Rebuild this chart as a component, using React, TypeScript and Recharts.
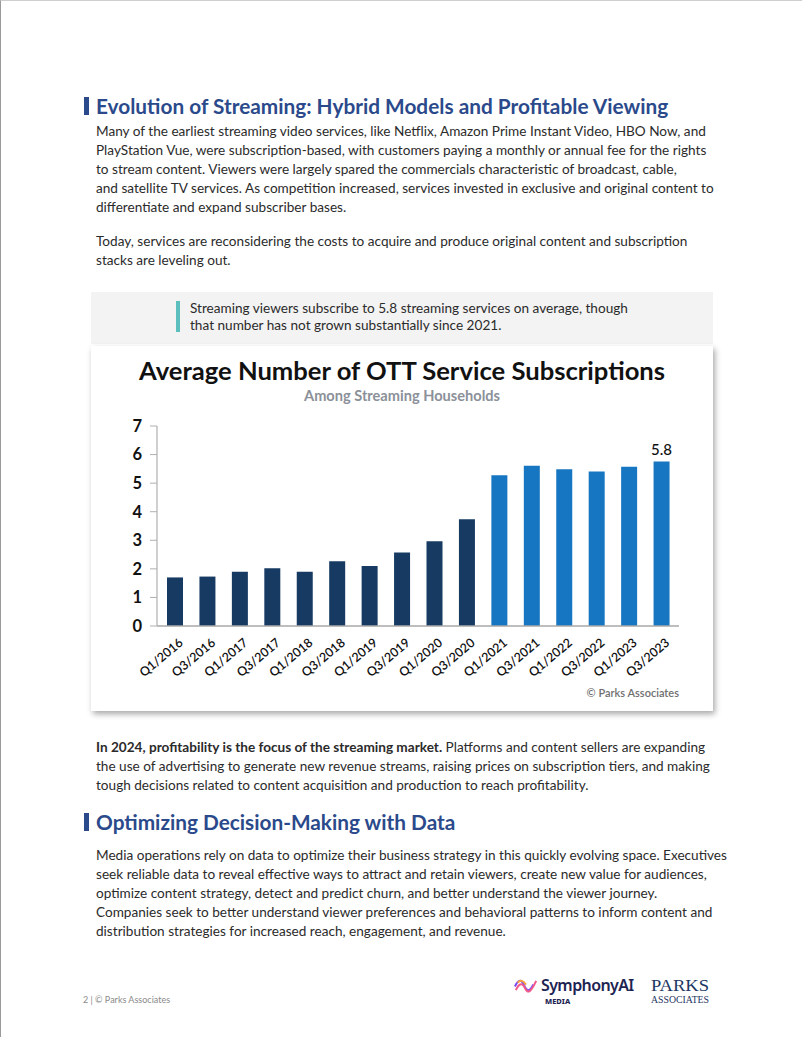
import React from "react";
import { BarChart, Bar, XAxis, YAxis, Cell, LabelList } from "recharts";

const categories = [
  "Q1/2016", "Q3/2016", "Q1/2017", "Q3/2017", "Q1/2018", "Q3/2018", "Q1/2019", "Q3/2019",
  "Q1/2020", "Q3/2020", "Q1/2021", "Q3/2021", "Q1/2022", "Q3/2022", "Q1/2023", "Q3/2023",
];
const subscriptions = [1.7, 1.73, 1.9, 2.02, 1.9, 2.27, 2.1, 2.57, 2.97, 3.74, 5.28, 5.61, 5.49, 5.41, 5.57, 5.76];
const valueLabels = ["", "", "", "", "", "", "", "", "", "", "", "", "", "", "", "5.8"];
const yTicks = [0, 1, 2, 3, 4, 5, 6, 7];

const data = categories.map((c, i) => ({ cat: c, value: subscriptions[i], label: valueLabels[i] }));

const FONT = "Lato, 'Noto Sans', sans-serif";
const NAVY = "#173a63";
const BLUE = "#1776c1";
const HEAD = "#2b4a8b";
const TXT = "#2b2b2b";

const Line: React.FC<{ top: number; left?: number; children: React.ReactNode; style?: React.CSSProperties }> = ({ top, left = 95, children, style }) => (
  <div style={{ position: "absolute", top, left, whiteSpace: "nowrap", fontSize: 13.6, color: TXT, fontFamily: FONT, lineHeight: "19px", ...style }}>
    {children}
  </div>
);

const XTick = (props: any) => {
  const { x, y, payload } = props;
  return (
    <g transform={`translate(${x + 6},${y + 7})`}>
      <text x={0} y={0} dy={4} textAnchor="end" transform="rotate(-40)" fontSize={12.5} fontWeight={600} fill="#111" fontFamily={FONT}>
        {payload.value}
      </text>
    </g>
  );
};

export default function App() {
  return (
    <div style={{ position: "absolute", left: 0, top: 0, width: 802, height: 1037, background: "#fff", boxSizing: "border-box", borderLeft: "1.5px solid #9a9a9a", borderTop: "1px solid #cfcfcf", overflow: "hidden", fontFamily: FONT }}>
      {/* Heading 1 */}
      <div style={{ position: "absolute", left: 83, top: 96, width: 5, height: 18, background: HEAD }} />
      <div style={{ position: "absolute", left: 95, top: 91, fontSize: 20.8, fontWeight: 700, color: HEAD, whiteSpace: "nowrap", lineHeight: "28px" }}>
        Evolution of Streaming: Hybrid Models and Profitable Viewing
      </div>
      <Line top={121}>Many of the earliest streaming video services, like Netflix, Amazon Prime Instant Video, HBO Now, and</Line>
      <Line top={140}>PlayStation Vue, were subscription-based, with customers paying a monthly or annual fee for the rights</Line>
      <Line top={159}>to stream content. Viewers were largely spared the commercials characteristic of broadcast, cable,</Line>
      <Line top={178}>and satellite TV services. As competition increased, services invested in exclusive and original content to</Line>
      <Line top={197}>differentiate and expand subscriber bases.</Line>
      <Line top={231}>Today, services are reconsidering the costs to acquire and produce original content and subscription</Line>
      <Line top={250}>stacks are leveling out.</Line>

      {/* Quote box */}
      <div style={{ position: "absolute", left: 90, top: 291, width: 622, height: 52, background: "#f3f3f3" }} />
      <div style={{ position: "absolute", left: 175, top: 300, width: 4, height: 31, background: "#5bbfbd" }} />
      <Line top={298} left={189}>Streaming viewers subscribe to 5.8 streaming services on average, though</Line>
      <Line top={315} left={189}>that number has not grown substantially since 2021.</Line>

      {/* Chart card */}
      <div style={{ position: "absolute", left: 90, top: 345, width: 622, height: 365, background: "#fff", boxShadow: "2px 3px 6px rgba(0,0,0,0.35)" }}>
        <div style={{ position: "absolute", left: 0, width: 622, top: 7, textAlign: "center", fontSize: 25.6, fontWeight: 700, color: "#111", whiteSpace: "nowrap", lineHeight: "34px" }}>
          Average Number of OTT Service Subscriptions
        </div>
        <div style={{ position: "absolute", left: 0, width: 622, top: 41, textAlign: "center", fontSize: 14.6, fontWeight: 700, color: "#8b9099", whiteSpace: "nowrap", lineHeight: "18px" }}>
          Among Streaming Households
        </div>
        <div style={{ position: "absolute", left: 0, top: 0 }}>
          <BarChart width={622} height={365} data={data} margin={{ top: 80, right: 34, bottom: 25, left: 0 }} barCategoryGap={0}>
            <XAxis
              dataKey="cat"
              interval={0}
              height={60}
              tickLine={false}
              axisLine={{ stroke: "#a8a8a8", strokeWidth: 1.5 }}
              tick={<XTick />}
              padding={{ left: 2, right: 1 }}
            />
            <YAxis
              domain={[0, 7]}
              ticks={yTicks}
              width={66}
              axisLine={{ stroke: "#b0b0b0", strokeWidth: 1.2 }}
              tickLine={{ stroke: "#b0b0b0" }}
              tickSize={7}
              tick={{ fontSize: 16.5, fontWeight: 700, fill: "#111", fontFamily: FONT, dx: -6 }}
            />
            <Bar dataKey="value" barSize={16} isAnimationActive={false}>
              {data.map((d, i) => (
                <Cell key={i} fill={Number(d.cat.slice(3)) >= 2021 ? BLUE : NAVY} />
              ))}
              <LabelList dataKey="label" position="top" offset={6} style={{ fontSize: 15, fill: "#111", fontFamily: FONT, fontWeight: 500 }} />
            </Bar>
          </BarChart>
        </div>
        <div style={{ position: "absolute", right: 34, top: 340, fontSize: 11, fontWeight: 600, color: "#6f6f6f", whiteSpace: "nowrap" }}>
          © Parks Associates
        </div>
      </div>

      <Line top={737}><b>In 2024, profitability is the focus of the streaming market.</b> Platforms and content sellers are expanding</Line>
      <Line top={756}>the use of advertising to generate new revenue streams, raising prices on subscription tiers, and making</Line>
      <Line top={775}>tough decisions related to content acquisition and production to reach profitability.</Line>

      {/* Heading 2 */}
      <div style={{ position: "absolute", left: 83, top: 812, width: 5, height: 18, background: HEAD }} />
      <div style={{ position: "absolute", left: 95, top: 807, fontSize: 20.8, fontWeight: 700, color: HEAD, whiteSpace: "nowrap", lineHeight: "28px" }}>
        Optimizing Decision-Making with Data
      </div>
      <Line top={845}>Media operations rely on data to optimize their business strategy in this quickly evolving space. Executives</Line>
      <Line top={864}>seek reliable data to reveal effective ways to attract and retain viewers, create new value for audiences,</Line>
      <Line top={883}>optimize content strategy, detect and predict churn, and better understand the viewer journey.</Line>
      <Line top={902}>Companies seek to better understand viewer preferences and behavioral patterns to inform content and</Line>
      <Line top={921}>distribution strategies for increased reach, engagement, and revenue.</Line>

      {/* Footer */}
      <div style={{ position: "absolute", left: 82, top: 993, fontSize: 9, color: "#8a8a8a", whiteSpace: "nowrap" }}>2 | © Parks Associates</div>
      <svg style={{ position: "absolute", left: 513, top: 977 }} width={24} height={15} viewBox="0 0 26 16">
        <path d="M1 9 C5 1, 8 1, 11 8 S17 15, 21 7" stroke="#7b4cf0" strokeWidth={2.2} fill="none" />
        <path d="M2 13 C6 5, 9 5, 12 11 S18 16, 24 3" stroke="#f25a8a" strokeWidth={2.2} fill="none" />
        <path d="M4 5 C7 1, 10 3, 13 7" stroke="#f6a13a" strokeWidth={2} fill="none" />
      </svg>
      <div style={{ position: "absolute", left: 540, top: 974, fontSize: 16, fontWeight: 600, color: "#1d2452", whiteSpace: "nowrap", fontFamily: "'Noto Sans', sans-serif", letterSpacing: -0.6, lineHeight: "20px" }}>SymphonyAI</div>
      <div style={{ position: "absolute", left: 544, top: 995, fontSize: 7.5, fontWeight: 800, color: "#1d2452", whiteSpace: "nowrap", fontFamily: "'Noto Sans', sans-serif", lineHeight: "10px" }}>MEDIA</div>
      <svg style={{ position: "absolute", left: 648, top: 970 }} width={64} height={36}>
        <text x={2} y={19.5} fontSize={17} fill="#1d3763" fontFamily="'Liberation Serif', serif" textLength={58} lengthAdjust="spacingAndGlyphs">PARKS</text>
        <text x={2} y={31.5} fontSize={9.5} fill="#1d3763" fontFamily="'Liberation Serif', serif" textLength={58} lengthAdjust="spacingAndGlyphs">ASSOCIATES</text>
      </svg>
    </div>
  );
}
